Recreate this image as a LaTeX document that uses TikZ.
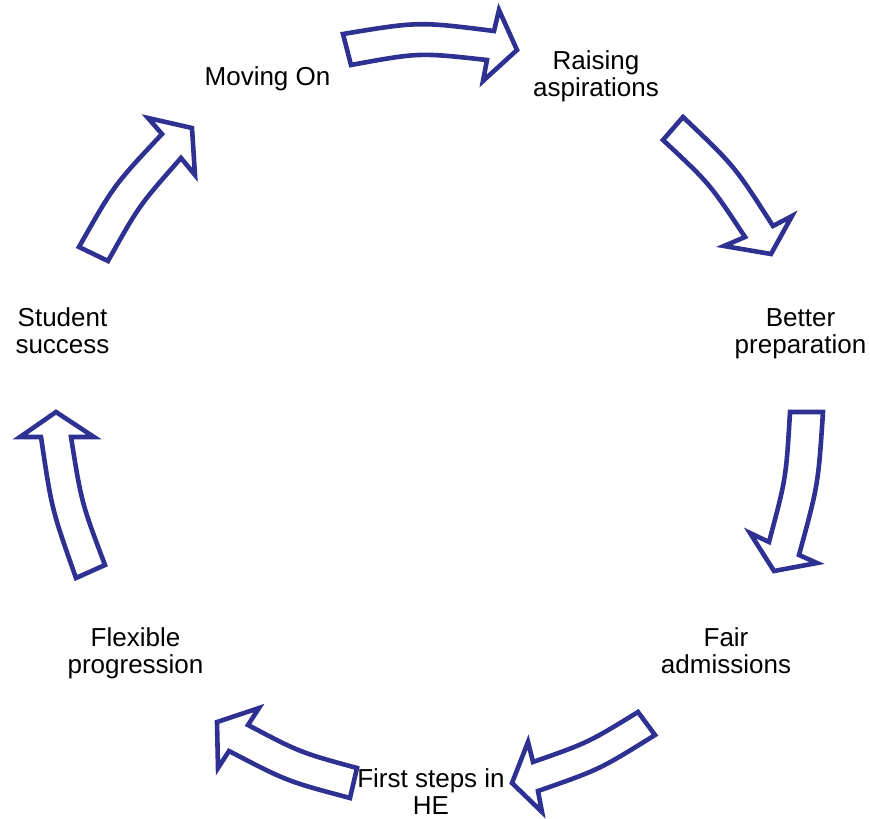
\documentclass[tikz,border=0pt]{standalone}
\usepackage{fontspec}
\setmainfont{Liberation Sans}
\definecolor{arrowblue}{RGB}{46,49,146}
\begin{document}
\begin{tikzpicture}[x=1pt,y=-1pt,
  blockarrow/.style={draw=arrowblue, fill=white, line width=4.6pt, line join=miter, miter limit=10},
  lbl/.style={align=center, inner sep=0pt, text=black, font=\fontsize{26}{27}\selectfont}]
\useasboundingbox (0,0) rectangle (870,819);
% arrow: Moving On -> Raising aspirations
\draw[blockarrow] (343,34) .. controls (418.5,21.5) .. (494,31) -- (499,10) -- (517,50) -- (483,81) -- (487,60)
  .. controls (419,52.5) .. (351,65) -- cycle;
% arrow: Raising aspirations -> Better preparation
\draw[blockarrow] (683,117) .. controls (734.6,166) .. (773,226) -- (792,216) -- (771,254) -- (724,246) -- (745,237)
  .. controls (709.8,183.7) .. (663,140) -- cycle;
% arrow: Better preparation -> Fair admissions
\draw[blockarrow] (823,412) .. controls (818.2,484.7) .. (799,555) -- (817,563) -- (774,571) -- (750,533) -- (769,542)
  .. controls (786.1,478) .. (790,412) -- cycle;
% arrow: Fair admissions -> First steps in HE
\draw[blockarrow] (655,735) .. controls (599.6,769.5) .. (538,791) -- (542,812) -- (512,783) -- (528,742) -- (533,762)
  .. controls (588.2,742.6) .. (638,712) -- cycle;
% arrow: First steps in HE -> Flexible progression
\draw[blockarrow] (350,798) .. controls (286.9,781.2) .. (229,751) -- (218,768) -- (217,722) -- (259,708) -- (248,725)
  .. controls (300.2,752.5) .. (357,768) -- cycle;
% arrow: Flexible progression -> Student success
\draw[blockarrow] (76,578) .. controls (51.7,509.2) .. (41,437) -- (20,437) -- (56,412) -- (94,437) -- (71,437)
  .. controls (81.5,502.7) .. (105,565) -- cycle;
% arrow: Student success -> Moving On
\draw[blockarrow] (79,247) .. controls (113.7,185.5) .. (162,134) -- (148,118) -- (192,128) -- (195,175) -- (181,158)
  .. controls (139,205.6) .. (108,261) -- cycle;
% labels
\node[lbl] (moving) at (267.5,79.8) {\strut Moving On};
\node[lbl] (raising) at (596,78) {\strut Raising\\\strut aspirations};
\node[lbl] (better) at (800.5,334.5) {\strut Better\\\strut preparation};
\node[lbl] (fair) at (726,654.5) {\strut Fair\\\strut admissions};
\node[lbl] (first) at (431,795.5) {\strut First steps in\\\strut HE};
\node[lbl] (flexible) at (135.5,654.5) {\strut Flexible\\\strut progression};
\node[lbl] (student) at (62.5,334.5) {\strut Student\\\strut success};
\end{tikzpicture}
\end{document}
